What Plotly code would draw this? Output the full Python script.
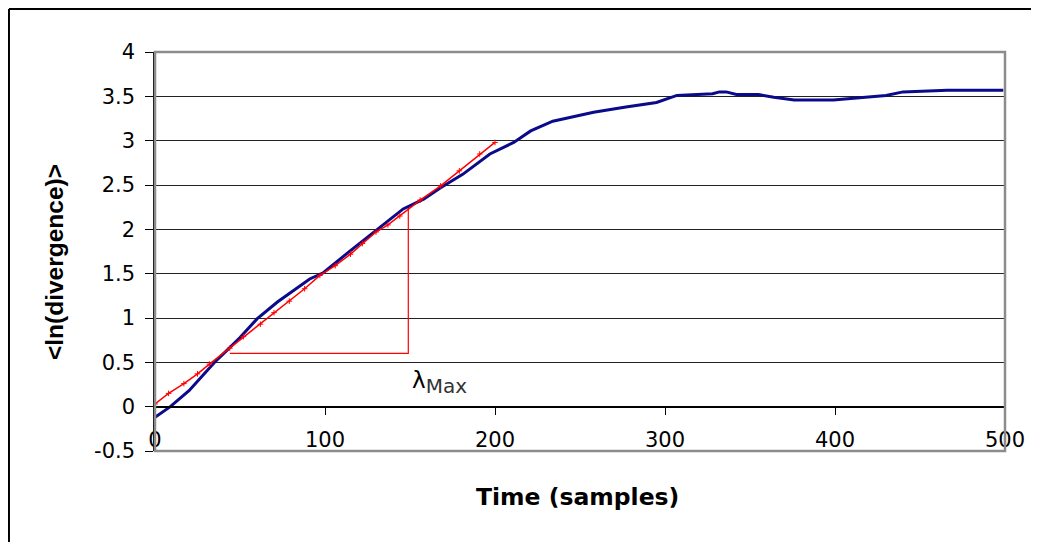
import plotly.graph_objects as go

# Blue: averaged ln(divergence) curve
blue_x = [0, 9, 20, 36, 42, 50, 60, 72, 91, 99, 115, 132, 146, 158, 168, 181, 197, 211, 221, 234, 246,
          258, 277, 295, 307, 320, 328, 332, 336, 342, 355, 364, 376, 399, 415, 430, 440, 466, 499]
blue_y = [-0.12, 0.0, 0.18, 0.52, 0.63, 0.78, 0.99, 1.18, 1.44, 1.51, 1.76, 2.02, 2.23, 2.34, 2.47, 2.62, 2.85, 2.98, 3.11, 3.22, 3.27,
          3.32, 3.38, 3.43, 3.51, 3.52, 3.53, 3.55, 3.55, 3.52, 3.52, 3.49, 3.46, 3.46, 3.49, 3.51, 3.55, 3.57, 3.57]

# Red: linear region used for the fit
red_x = [0, 8, 17, 25, 32, 44, 52, 62, 70, 79, 88, 97, 106, 115, 122, 130, 137, 144, 156, 168, 179, 191, 200]
red_y = [0.03, 0.15, 0.26, 0.37, 0.48, 0.66, 0.79, 0.93, 1.06, 1.19, 1.33, 1.48, 1.59, 1.72, 1.84, 1.97, 2.05, 2.15, 2.33, 2.49, 2.66, 2.85, 2.98]

# Slope triangle
tri_x = [44, 149, 149]
tri_y = [0.6, 0.6, 2.25]

x_ticks = [0, 100, 200, 300, 400, 500]
y_ticks = [-0.5, 0, 0.5, 1, 1.5, 2, 2.5, 3, 3.5, 4]
y_ticktext = ["-0.5", "0", "0.5", "1", "1.5", "2", "2.5", "3", "3.5", "4"]

FONT = "Liberation Sans, Arial, sans-serif"
WIDE = "DejaVu Sans, sans-serif"

fig = go.Figure()
fig.add_trace(go.Scatter(x=tri_x, y=tri_y, mode="lines",
                         line=dict(color="#ff0000", width=1.2), showlegend=False))
fig.add_trace(go.Scatter(x=blue_x, y=blue_y, mode="lines",
                         line=dict(color="#0a0a8a", width=3), showlegend=False))
fig.add_trace(go.Scatter(x=red_x, y=red_y, mode="lines+markers",
                         line=dict(color="#ff0000", width=1.5),
                         marker=dict(symbol="cross-thin", size=4, line=dict(color="#ff0000", width=1)),
                         showlegend=False))

fig.update_layout(
    width=1031, height=534,
    margin=dict(l=147, r=34, t=44, b=91),
    paper_bgcolor="white", plot_bgcolor="white",
    font=dict(family=FONT, color="black"),
    xaxis=dict(range=[0, 500], tickvals=x_ticks, ticks="outside", ticklen=8, tickcolor="black",
               showline=True, linecolor="black", linewidth=1.5, showgrid=False, zeroline=False,
               anchor="free", position=0.5 / 4.5, tickfont=dict(size=21, family=WIDE),
               ticklabelstandoff=6),
    yaxis=dict(range=[-0.5, 4], tickvals=y_ticks, ticktext=y_ticktext, ticks="outside", ticklen=8,
               tickcolor="black", showline=True, linecolor="black", linewidth=1.5,
               showgrid=True, gridcolor="#222222", gridwidth=1.2, zeroline=False,
               tickfont=dict(size=21, family=WIDE), domain=[0, 1], ticklabelstandoff=6),
    shapes=[
        dict(type="rect", xref="paper", yref="paper", x0=0, x1=1, y0=0, y1=1,
             line=dict(color="#8c8c8c", width=2.5), layer="above"),
        dict(type="line", xref="paper", yref="paper", x0=-0.1718, x1=-0.1718, y0=-0.3, y1=1.1078,
             line=dict(color="black", width=2), layer="above"),
        dict(type="line", xref="paper", yref="paper", x0=-0.1718, x1=1.05, y0=1.1078, y1=1.1078,
             line=dict(color="black", width=2), layer="above"),
    ],
    annotations=[
        dict(text="<b>&lt;ln(divergence)&gt;</b>", xref="paper", yref="paper", x=-0.1176, y=0.4737,
             textangle=-90, showarrow=False, font=dict(size=24.5, family=FONT),
             xanchor="center", yanchor="middle"),
        dict(text="<b>Time (samples)</b>", xref="paper", yref="paper", x=0.497, y=-0.1145,
             showarrow=False, font=dict(size=23.5, family=WIDE), xanchor="center", yanchor="middle"),
        dict(text="λ<sub><span style='color:#333;font-size:20px'>Max</span></sub>", xref="x", yref="y",
             x=150, y=0.27, showarrow=False, font=dict(size=23, family=WIDE),
             xanchor="left", yanchor="middle"),
    ],
)

fig.write_html("out.html")
